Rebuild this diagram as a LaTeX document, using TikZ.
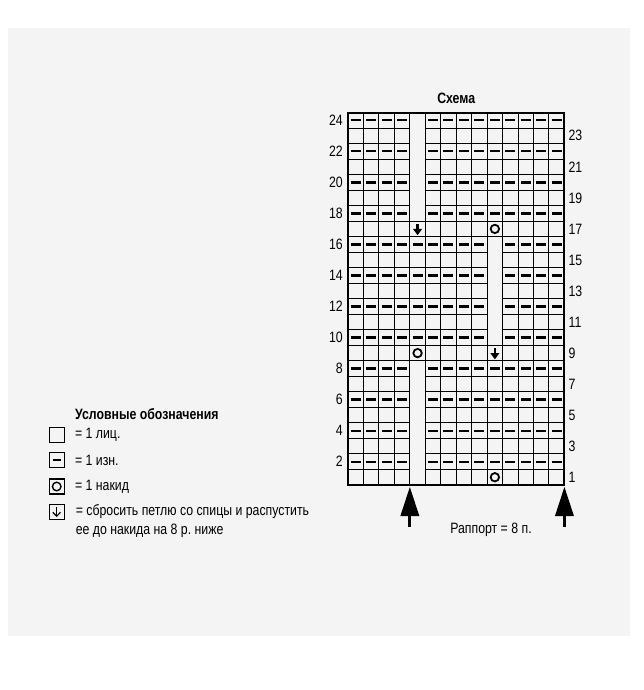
\documentclass[tikz,border=0pt]{standalone}
\usepackage{fontspec}
\setmainfont{Liberation Sans}[FakeStretch=0.82]
\usepackage{xcolor}
\usetikzlibrary{positioning, calc}
\definecolor{paper}{HTML}{F4F4F4}
\frenchspacing

\begin{document}
\begin{tikzpicture}[
    x=1pt, y=-1pt,
    font=\fontsize{15}{19}\selectfont,
    gridline/.style={line width=1pt, black},
    border/.style={line width=2pt, black},
    purl/.style={line width=2.3pt, black},
    yo/.style={line width=1.8pt, black},
    rownum/.style={font=\fontsize{15}{17}\selectfont, inner sep=0pt},
    legbox/.style={
        rectangle,
        draw,
        line width=1.4pt,
        minimum size=15pt,
        inner sep=0pt
    },
    legmark/.style={line width=1.2pt},
    legtext/.style={inner sep=0pt, anchor=west, align=left},
    droparrow/.pic={
        \fill (-1.3,-4.8) rectangle (1.3,0.5);
        \fill (-4.6,0) -- (4.6,0) -- (0,6.2) -- cycle;
    }
]

\def\gx{348}
\def\gy{485}
\def\cw{15.46}
\def\ch{15.52}
\pgfmathsetmacro\gr{\gx+14*\cw}
\pgfmathsetmacro\gtop{\gy-24*\ch}

% Page
\fill[white] (0,0) rectangle (643,690);
\fill[paper] (8,28) rectangle (630,636);
\useasboundingbox (0,0) rectangle (643,690);

% Vertical lines
\foreach \c in {1,...,13}
    \draw[gridline] ({\gx+\c*\cw},\gtop) -- ({\gx+\c*\cw},\gy);

% Horizontal lines (none inside the empty columns)
\foreach \k in {1,...,23}{
    \foreach \c in {1,...,14}{
        \pgfmathtruncatemacro\gap{(\c==5 && (\k<8 || \k>17)) || (\c==10 && \k>9 && \k<16)}
        \ifnum\gap=0
            \draw[gridline] ({\gx+(\c-1)*\cw},{\gy-\k*\ch}) -- ({\gx+\c*\cw},{\gy-\k*\ch});
        \fi
    }
}

% Purl rows
\foreach \r in {2,4,...,24}{
    \foreach \c in {1,...,14}{
        \pgfmathtruncatemacro\gap{(\c==5 && (\r<9 || \r>17)) || (\c==10 && \r>9 && \r<17)}
        \ifnum\gap=0
            \draw[purl] ({\gx+(\c-0.5)*\cw-5},{\gy-(\r-0.5)*\ch}) -- ++(10,0);
        \fi
    }
}

% Yarn overs and dropped stitches
\foreach \c/\r in {5/9, 10/17, 10/1}
    \draw[yo] ({\gx+(\c-0.5)*\cw},{\gy-(\r-0.5)*\ch}) circle (4.2);
\foreach \c/\r in {5/17, 10/9}
    \pic at ({\gx+(\c-0.5)*\cw},{\gy-(\r-0.5)*\ch}) {droparrow};

\draw[border] (\gx,\gtop) rectangle (\gr,\gy);

% Row numbers
\foreach \r in {2,4,...,24}
    \node[rownum, anchor=east] (l\r) at ({\gx-5},{\gy-(\r-0.5)*\ch}) {\r};
\foreach \r in {1,3,...,23}
    \node[rownum, anchor=west] (r\r) at ({\gr+4},{\gy-(\r-0.5)*\ch}) {\r};

\node[font=\bfseries\fontsize{15}{19}\selectfont] (title) at ({(\gx+\gr)/2},98) {Схема};

% Repeat marks
\coordinate (rs) at ({\gx+4*\cw},{\gy+2});
\coordinate (re) at (\gr,{\gy+2});
\foreach \p in {rs,re}{
    \fill (\p) -- ($(\p)+(-9.5,29)$) -- ($(\p)+(9.5,29)$) -- cycle;
    \draw[line width=3pt] ($(\p)+(0,28)$) -- ($(\p)+(0,40)$);
}
\node (rapport) at (491,530) {Раппорт = 8 п.};

% Legend
\node[font=\bfseries\fontsize{15}{19}\selectfont, inner sep=0pt, anchor=west] (legtitle) at (75,414) {Условные обозначения};

\node[legbox] (kbox) at (56.7,434.7) {};
\node[legtext, right=10pt of kbox] (ktext) {= 1 лиц.};

\node[legbox] (pbox) at (56.7,460) {};
\draw[legmark] ($(pbox.center)+(-4,0)$) -- ($(pbox.center)+(4,0)$);
\node[legtext, right=10pt of pbox] (ptext) {= 1 изн.};

\node[legbox] (ybox) at (56.7,486.5) {};
\draw[legmark, line width=1.4pt] (ybox.center) circle (4.3);
\node[legtext, right=10pt of ybox] (ytext) {= 1 накид};

\node[legbox] (dbox) at (56.7,511.7) {};
\draw[legmark] ($(dbox.center)+(0,-5)$) -- ($(dbox.center)+(0,4.5)$);
\draw[legmark] ($(dbox.center)+(-3.8,0.6)$) -- ($(dbox.center)+(0,4.5)$) -- ($(dbox.center)+(3.8,0.6)$);
\node[legtext] (dtext) at ($(dbox.east)+(10.7,9.5)$) {= сбросить петлю со спицы и распустить\\ее до накида на 8 р. ниже};

\end{tikzpicture}
\end{document}
